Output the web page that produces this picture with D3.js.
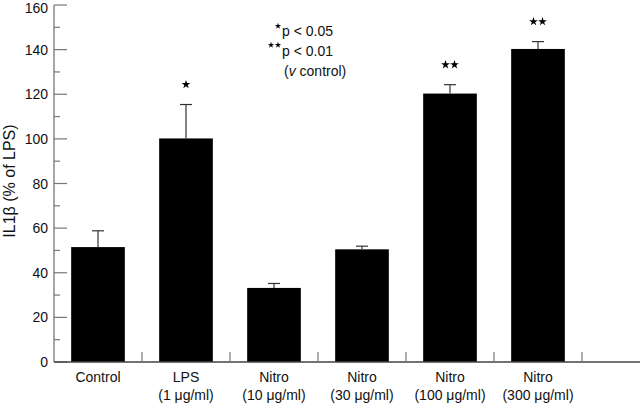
<!DOCTYPE html>
<html><head><meta charset="utf-8">
<script src="https://cdn.jsdelivr.net/npm/d3@7"></script>
<style>body{margin:0;background:#fff}svg{display:block}text{font-family:"Liberation Sans",Arial,sans-serif}</style>
</head><body><svg id="c" width="640" height="404"></svg>
<script>
const categories = ["Control","LPS","Nitro","Nitro","Nitro","Nitro"];
const subLabels = ["","(1 \u03bcg/ml)","(10 \u03bcg/ml)","(30 \u03bcg/ml)","(100 \u03bcg/ml)","(300 \u03bcg/ml)"];
const values = [51.5, 100.2, 33.2, 50.5, 120.3, 140.3];
const errors = [7.3, 15.2, 2.0, 1.4, 4.0, 3.3];
const stars = [0, 1, 0, 0, 2, 2];
const yTicks = [0,20,40,60,80,100,120,140,160];

const svg = d3.select("#c");
const x0 = 54, x1 = 582, yTop = 5, yBot = 362;
const x = d3.scaleBand().domain(d3.range(categories.length)).range([x0, x1]).paddingInner(0.39).paddingOuter(0.195);
const y = d3.scaleLinear().domain([0,160]).range([yBot, yTop]);
const axisCol = "#777";

// bars
svg.selectAll("rect.bar").data(values).join("rect")
  .attr("x",(d,i)=>x(i)).attr("width",x.bandwidth())
  .attr("y",d=>y(d)).attr("height",d=>yBot-y(d)).attr("fill","#000");

// error bars
const eg = svg.append("g").attr("stroke","#333").attr("stroke-width",1.2);
values.forEach((v,i)=>{
  const cx = x(i)+x.bandwidth()/2;
  eg.append("line").attr("x1",cx).attr("x2",cx).attr("y1",y(v)).attr("y2",y(v+errors[i]));
  eg.append("line").attr("x1",cx-6).attr("x2",cx+6).attr("y1",y(v+errors[i])).attr("y2",y(v+errors[i]));
});

// stars above bars
const star = d3.symbol().type(d3.symbolStar).size(24);
values.forEach((v,i)=>{
  const cx = x(i)+x.bandwidth()/2;
  const n = stars[i];
  const sy = y(v+errors[i]) - 20;
  for(let k=0;k<n;k++){
    const sx = cx + (k-(n-1)/2)*9;
    svg.append("path").attr("d",star()).attr("transform",`translate(${sx},${sy})`).attr("fill","#000");
  }
});

// y axis
const ya = svg.append("g").attr("transform",`translate(${x0},0)`);
ya.append("line").attr("x1",0).attr("x2",0).attr("y1",yTop).attr("y2",yBot).attr("stroke",axisCol).attr("stroke-width",1.3);
d3.range(0,161,10).forEach(t=>{
  const major = t%20===0;
  ya.append("line").attr("x1",0).attr("x2",major?13:6).attr("y1",y(t)).attr("y2",y(t)).attr("stroke",axisCol).attr("stroke-width",1.2);
});
ya.selectAll("text").data(yTicks).join("text")
  .attr("x",-6).attr("y",d=>Math.max(y(d)+5,13)).attr("text-anchor","end")
  .attr("font-size",14).attr("fill","#111").text(d=>d);

// x axis
svg.append("line").attr("x1",x0).attr("x2",640).attr("y1",yBot).attr("y2",yBot).attr("stroke","#444").attr("stroke-width",1.3);
d3.range(1,categories.length+1).forEach(i=>{
  const xx = x0 + i*(x1-x0)/categories.length;
  svg.append("line").attr("x1",xx).attr("x2",xx).attr("y1",yBot).attr("y2",yBot-10).attr("stroke",axisCol).attr("stroke-width",1.2);
});
categories.forEach((c,i)=>{
  const cx = x(i)+x.bandwidth()/2;
  svg.append("text").attr("x",cx).attr("y",382).attr("text-anchor","middle").attr("font-size",14).attr("fill","#111").text(c);
  if(subLabels[i]) svg.append("text").attr("x",cx).attr("y",400).attr("text-anchor","middle").attr("font-size",14).attr("fill","#111").text(subLabels[i]);
});

// y label
svg.append("text").attr("transform","translate(15,181) rotate(-90)").attr("text-anchor","middle")
  .attr("font-size",16).attr("fill","#111").text("IL1\u03b2 (% of LPS)");

// legend
const lg = svg.append("g");
const sstar = d3.symbol().type(d3.symbolStar).size(12);
lg.append("path").attr("d",sstar()).attr("transform","translate(278,26)").attr("fill","#000");
lg.append("text").attr("x",282).attr("y",36).attr("font-size",14).attr("fill","#111").text("p < 0.05");
lg.append("path").attr("d",sstar()).attr("transform","translate(271,45)").attr("fill","#000");
lg.append("path").attr("d",sstar()).attr("transform","translate(278,45)").attr("fill","#000");
lg.append("text").attr("x",282).attr("y",56).attr("font-size",14).attr("fill","#111").text("p < 0.01");
const t3 = lg.append("text").attr("x",284).attr("y",76).attr("font-size",14).attr("fill","#111");
t3.append("tspan").text("(");
t3.append("tspan").attr("font-style","italic").text("v");
t3.append("tspan").text(" control)");
</script></body></html>
